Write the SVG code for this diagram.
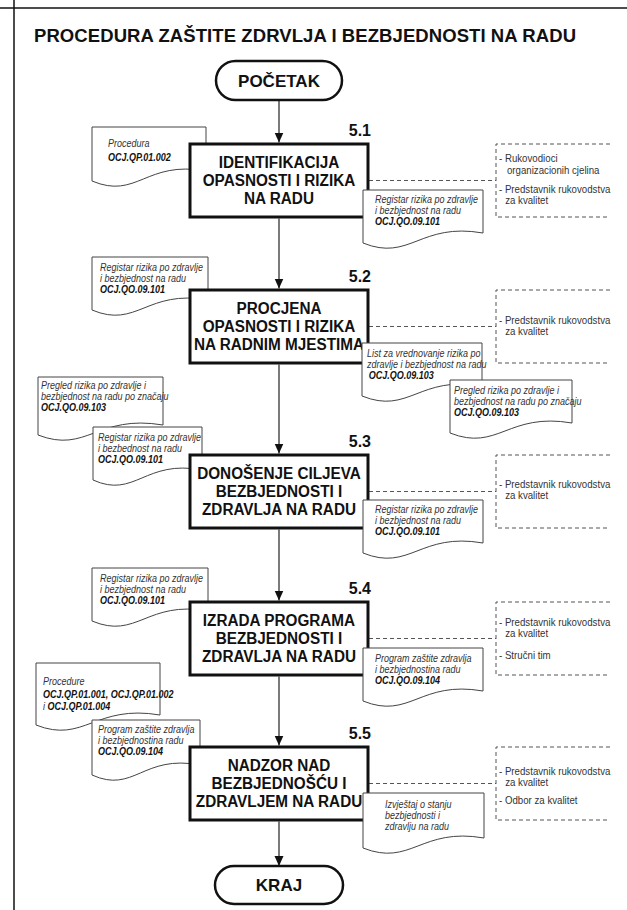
<svg xmlns="http://www.w3.org/2000/svg" width="627" height="910" viewBox="0 0 627 910">
  <defs>
    <marker id="arrow" markerUnits="userSpaceOnUse" markerWidth="10" markerHeight="10" refX="10" refY="4.5" orient="auto">
      <path d="M0,0 L10,4.5 L0,9 Z" fill="#111"/>
    </marker>
    <style>
      .frame { stroke: #111; stroke-width: 1.5; }
      .title { font: bold 18.5px "Liberation Sans", Arial, sans-serif; fill: #111; }
      .term { fill: #fff; stroke: #111; stroke-width: 2.5; }
      .termtxt { font: bold 17px "Liberation Sans", Arial, sans-serif; fill: #111; text-anchor: middle; }
      .box { fill: #fff; stroke: #111; stroke-width: 3; }
      .bx { font: bold 17px "Liberation Sans", Arial, sans-serif; fill: #111; text-anchor: middle; }
      .num { font: bold 16px "Liberation Sans", Arial, sans-serif; fill: #111; text-anchor: end; }
      .doc { fill: #fff; stroke: #444; stroke-width: 1; }
      .dt { font: italic 10px "Liberation Sans", Arial, sans-serif; fill: #333; }
      .db { font-weight: bold; fill: #111; }
      .rt { font: 11px "Liberation Sans", Arial, sans-serif; fill: #333; }
      .flow { fill: none; stroke: #222; stroke-width: 1.2; marker-end: url(#arrow); }
      .dash { fill: none; stroke: #555; stroke-width: 1; stroke-dasharray: 4 3; }
    </style>
  </defs>

  <rect width="627" height="910" fill="#fff"/>

  <!-- form frame -->
  <line class="frame" x1="0" y1="8" x2="627" y2="8"/>
  <line class="frame" x1="14" y1="0" x2="14" y2="910"/>

  <text class="title" x="34" y="42" textLength="542" lengthAdjust="spacing">PROCEDURA ZAŠTITE ZDRVLJA I BEZBJEDNOSTI NA RADU</text>

  <!-- connectors -->
  <g id="connectors">
    <line class="flow" x1="279" y1="101" x2="279" y2="142.5"/>
    <line class="flow" x1="279" y1="218.5" x2="279" y2="288.5"/>
    <line class="flow" x1="279" y1="364.5" x2="279" y2="453.5"/>
    <line class="flow" x1="279" y1="529.5" x2="279" y2="600.5"/>
    <line class="flow" x1="279" y1="676.5" x2="279" y2="745.5"/>
    <line class="flow" x1="279" y1="821.5" x2="279" y2="866"/>
    <line class="dash" x1="369" y1="180.5" x2="496" y2="180.5"/>
    <line class="dash" x1="369" y1="326.5" x2="496" y2="326.5"/>
    <line class="dash" x1="369" y1="491.5" x2="496" y2="491.5"/>
    <line class="dash" x1="369" y1="638.5" x2="496" y2="638.5"/>
    <line class="dash" x1="369" y1="783.5" x2="496" y2="783.5"/>
  </g>

  <!-- start -->
  <g id="start">
    <rect class="term" x="216" y="61" width="126" height="39" rx="19.5"/>
    <text class="termtxt" x="279" y="86.5">POČETAK</text>
  </g>

  <!-- input documents (left, beneath the activity boxes) -->
  <g id="doc-5-1-in">
    <path class="doc" d="M92,127 H206 V171 C146,160 137,200 92,181 Z"/>
    <g class="dt" transform="translate(108,0) scale(0.9,1)">
      <text y="147">Procedura</text>
      <text class="db" y="161">OCJ.QP.01.002</text>
    </g>
  </g>
  <g id="doc-5-2-in">
    <path class="doc" d="M92,257 H208 V300 C147,289 137,329 92,310 Z"/>
    <g class="dt" transform="translate(100,0) scale(0.9,1)">
      <text y="271">Registar rizika po zdravlje</text>
      <text y="282">i bezbjednost na radu</text>
      <text class="db" y="293">OCJ.QO.09.101</text>
    </g>
  </g>
  <g id="doc-5-3-in-a">
    <path class="doc" d="M38,377 H163 V425 C97,414 87,454 38,435 Z"/>
    <g class="dt" transform="translate(41,0) scale(0.9,1)">
      <text y="389">Pregled rizika po zdravlje i</text>
      <text y="400">bezbjednost na radu po značaju</text>
      <text class="db" y="411">OCJ.QO.09.103</text>
    </g>
  </g>
  <g id="doc-5-3-in-b">
    <path class="doc" d="M93,427 H202 V470 C145,459 135,499 93,480 Z"/>
    <g class="dt" transform="translate(98,0) scale(0.9,1)">
      <text y="441">Registar rizika po zdravlje</text>
      <text y="452">i bezbednost na radu</text>
      <text class="db" y="463">OCJ.QO.09.101</text>
    </g>
  </g>
  <g id="doc-5-4-in">
    <path class="doc" d="M92,568 H208 V611 C147,600 137,640 92,621 Z"/>
    <g class="dt" transform="translate(100,0) scale(0.9,1)">
      <text y="582">Registar rizika po zdravlje</text>
      <text y="593">i bezbjednost na radu</text>
      <text class="db" y="604">OCJ.QO.09.101</text>
    </g>
  </g>
  <g id="doc-5-5-in-a">
    <path class="doc" d="M36,663 H160 V715 C95,704 84,744 36,725 Z"/>
    <g class="dt" transform="translate(43,0) scale(0.9,1)">
      <text y="685">Procedure</text>
      <text class="db" y="698">OCJ.QP.01.001, OCJ.QP.01.002</text>
      <text y="710">i <tspan class="db">OCJ.QP.01.004</tspan></text>
    </g>
  </g>
  <g id="doc-5-5-in-b">
    <path class="doc" d="M92,720 H200 V765 C143,754 134,794 92,775 Z"/>
    <g class="dt" transform="translate(98,0) scale(0.9,1)">
      <text y="733">Program zaštite zdravlja</text>
      <text y="744">i bezbjednostina radu</text>
      <text class="db" y="755">OCJ.QO.09.104</text>
    </g>
  </g>

  <!-- activity boxes -->
  <g id="step-5-1">
    <rect class="box" x="190" y="144" width="178" height="73"/>
    <text class="num" x="371" y="136">5.1</text>
    <g transform="translate(279,0) scale(0.9,1)">
      <text class="bx" y="168.5">IDENTIFIKACIJA</text>
      <text class="bx" y="186.5">OPASNOSTI I RIZIKA</text>
      <text class="bx" y="204.5">NA RADU</text>
    </g>
  </g>
  <g id="step-5-2">
    <rect class="box" x="190" y="290" width="178" height="73"/>
    <text class="num" x="371" y="282">5.2</text>
    <g transform="translate(279,0) scale(0.9,1)">
      <text class="bx" y="314.5">PROCJENA</text>
      <text class="bx" y="332.5">OPASNOSTI I RIZIKA</text>
      <text class="bx" y="350.5">NA RADNIM MJESTIMA</text>
    </g>
  </g>
  <g id="step-5-3">
    <rect class="box" x="190" y="455" width="178" height="73"/>
    <text class="num" x="371" y="447">5.3</text>
    <g transform="translate(279,0) scale(0.9,1)">
      <text class="bx" y="479.5">DONOŠENJE CILJEVA</text>
      <text class="bx" y="497.5">BEZBJEDNOSTI I</text>
      <text class="bx" y="515.5">ZDRAVLJA NA RADU</text>
    </g>
  </g>
  <g id="step-5-4">
    <rect class="box" x="190" y="602" width="178" height="73"/>
    <text class="num" x="371" y="594">5.4</text>
    <g transform="translate(279,0) scale(0.9,1)">
      <text class="bx" y="626.5">IZRADA PROGRAMA</text>
      <text class="bx" y="644.5">BEZBJEDNOSTI I</text>
      <text class="bx" y="662.5">ZDRAVLJA NA RADU</text>
    </g>
  </g>
  <g id="step-5-5">
    <rect class="box" x="190" y="747" width="178" height="73"/>
    <text class="num" x="371" y="739">5.5</text>
    <g transform="translate(279,0) scale(0.9,1)">
      <text class="bx" y="771.5">NADZOR NAD</text>
      <text class="bx" y="789.5">BEZBJEDNOŠĆU I</text>
      <text class="bx" y="807.5">ZDRAVLJEM NA RADU</text>
    </g>
  </g>

  <!-- output documents (right, over the activity boxes) -->
  <g id="doc-5-1-out">
    <path class="doc" d="M363,190 H483 V233 C420,222 410,262 363,243 Z"/>
    <g class="dt" transform="translate(375,0) scale(0.9,1)">
      <text y="203">Registar rizika po zdravlje</text>
      <text y="214">i bezbjednost na radu</text>
      <text class="db" y="225">OCJ.QO.09.101</text>
    </g>
  </g>
  <g id="doc-5-2-out-a">
    <path class="doc" d="M362,343 H482 V386 C419,375 409,415 362,396 Z"/>
    <g class="dt" transform="translate(367,0) scale(0.9,1)">
      <text y="357">List za vrednovanje rizika po</text>
      <text y="368">zdravlje i bezbjednost na radu</text>
      <text class="db" x="2" y="379">OCJ.QO.09.103</text>
    </g>
  </g>
  <g id="doc-5-2-out-b">
    <path class="doc" d="M450,380 H572 V423 C508,412 498,452 450,433 Z"/>
    <g class="dt" transform="translate(454,0) scale(0.9,1)">
      <text y="394">Pregled rizika po zdravlje i</text>
      <text y="405">bezbjednost na radu po značaju</text>
      <text class="db" y="416">OCJ.QO.09.103</text>
    </g>
  </g>
  <g id="doc-5-3-out">
    <path class="doc" d="M363,500 H483 V543 C420,532 410,572 363,553 Z"/>
    <g class="dt" transform="translate(375,0) scale(0.9,1)">
      <text y="513">Registar rizika po zdravlje</text>
      <text y="524">i bezbjednost na radu</text>
      <text class="db" y="535">OCJ.QO.09.101</text>
    </g>
  </g>
  <g id="doc-5-4-out">
    <path class="doc" d="M363,648 H483 V691 C420,680 410,720 363,701 Z"/>
    <g class="dt" transform="translate(375,0) scale(0.9,1)">
      <text y="662">Program zaštite zdravlja</text>
      <text y="673">i bezbjednostina radu</text>
      <text class="db" y="684">OCJ.QO.09.104</text>
    </g>
  </g>
  <g id="doc-5-5-out">
    <path class="doc" d="M363,793 H484 V838 C421,827 411,867 363,848 Z"/>
    <g class="dt" transform="translate(385,0) scale(0.9,1)">
      <text y="808">Izvještaj o stanju</text>
      <text y="819">bezbjednosti i</text>
      <text y="830">zdravlju na radu</text>
    </g>
  </g>

  <!-- responsibilities -->
  <g id="roles-5-1">
    <path class="dash" d="M610,144 H496 V217 H610"/>
    <g class="rt" transform="translate(499,0) scale(0.88,1)">
      <text y="162">- Rukovodioci</text>
      <text x="9" y="174">organizacionih cjelina</text>
      <text y="193">- Predstavnik rukovodstva</text>
      <text x="7" y="204">za kvalitet</text>
    </g>
  </g>
  <g id="roles-5-2">
    <path class="dash" d="M610,290 H496 V363 H610"/>
    <g class="rt" transform="translate(499,0) scale(0.88,1)">
      <text y="324">- Predstavnik rukovodstva</text>
      <text x="7" y="335">za kvalitet</text>
    </g>
  </g>
  <g id="roles-5-3">
    <path class="dash" d="M610,455 H496 V528 H610"/>
    <g class="rt" transform="translate(499,0) scale(0.88,1)">
      <text y="488">- Predstavnik rukovodstva</text>
      <text x="7" y="499">za kvalitet</text>
    </g>
  </g>
  <g id="roles-5-4">
    <path class="dash" d="M610,602 H496 V675 H610"/>
    <g class="rt" transform="translate(499,0) scale(0.88,1)">
      <text y="626">- Predstavnik rukovodstva</text>
      <text x="7" y="637">za kvalitet</text>
      <text y="659">- Stručni tim</text>
    </g>
  </g>
  <g id="roles-5-5">
    <path class="dash" d="M610,747 H496 V820 H610"/>
    <g class="rt" transform="translate(499,0) scale(0.88,1)">
      <text y="775">- Predstavnik rukovodstva</text>
      <text x="7" y="786">za kvalitet</text>
      <text y="804">- Odbor za kvalitet</text>
    </g>
  </g>

  <!-- end -->
  <g id="end">
    <rect class="term" x="215" y="866" width="128" height="38" rx="19"/>
    <text class="termtxt" x="279" y="891">KRAJ</text>
  </g>
</svg>
